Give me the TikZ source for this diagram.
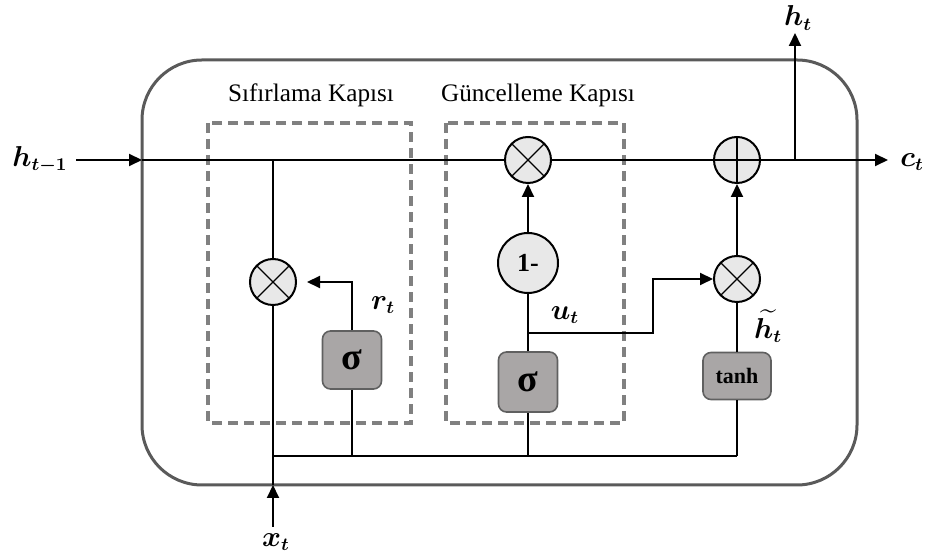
\documentclass[tikz,border=0pt]{standalone}
\usepackage{amsmath}
\usepackage{fontspec}
\setmainfont{Liberation Serif}
\usetikzlibrary{arrows.meta}
\usetikzlibrary{calc}

\definecolor{framegray}{HTML}{5A5A5A}
\definecolor{zonegray}{HTML}{808080}
\definecolor{boxgray}{HTML}{A9A6A6}
\definecolor{opfill}{HTML}{E8E8E8}

\tikzset{
    arr/.style={-{Triangle[length=6.5pt,width=6pt]}},
    wire/.style={line width=1pt},
    cellframe/.style={draw=framegray, line width=1.5pt, rounded corners=30pt},
    gatezone/.style={draw=zonegray, line width=1.7pt, dash pattern=on 5pt off 3pt},
    zonetitle/.style={font=\fontsize{12.6}{15}\selectfont},
    mlabel/.style={font=\fontsize{13.5}{16}\selectfont\boldmath},
    opcirc/.style={circle, draw, line width=1pt, fill=opfill, minimum size=23pt, inner sep=0pt},
    times/.style={opcirc, path picture={
        \draw[line width=0.6pt] (path picture bounding box.north west) -- (path picture bounding box.south east);
        \draw[line width=0.6pt] (path picture bounding box.north east) -- (path picture bounding box.south west);}},
    plus/.style={opcirc, path picture={
        \draw[line width=1pt] (path picture bounding box.north) -- (path picture bounding box.south);
        \draw[line width=1pt] (path picture bounding box.west) -- (path picture bounding box.east);}},
    gatebox/.style={draw=gray!75!black, fill=boxgray, rounded corners=4pt, line width=0.8pt, inner sep=0pt},
    sigbox/.style={gatebox, minimum width=29.5pt, font=\fontsize{19}{20}\selectfont\bfseries},
}

\begin{document}
\begin{tikzpicture}[x=0.5pt,y=-0.5pt]
    \useasboundingbox (0,0) rectangle (927,560);

    % cell and gate zones
    \draw[cellframe] (142,60) rectangle (857,485);
    \draw[gatezone] (208,123) rectangle (411,423);
    \draw[gatezone] (446,123) rectangle (624,423);
    \node[zonetitle] (rtitle) at (311,95) {Sıfırlama Kapısı};
    \node[zonetitle] (utitle) at (538,95) {Güncelleme Kapısı};

    % operators
    \node[times] (mulR) at (273,282) {};
    \node[times] (mulU) at (528,160) {};
    \node[times] (mulC) at (737,279) {};
    \node[plus] (addC) at (737,160) {};
    \node[opcirc, minimum size=30pt, font=\fontsize{13}{15}\selectfont\bfseries] (oneM) at (528,263) {1-};
    \node[sigbox, minimum height=29pt] (sigR) at (352,360) {σ};
    \node[sigbox, minimum height=30pt] (sigU) at (528,382) {σ};
    \node[gatebox, minimum width=34pt, minimum height=23.5pt, font=\fontsize{11}{13}\selectfont\bfseries] (tanhB) at (737,376) {tanh};

    % points on the wires
    \coordinate (hin) at (76,160);
    \coordinate (cellL) at (142,160);
    \coordinate (jr) at (273,160);
    \coordinate (jh) at (795,160);
    \coordinate (cout) at (888,160);
    \coordinate (hout) at (795,33);
    \coordinate (xin) at (273,527);
    \coordinate (cellB) at (273,485);
    \coordinate (ju) at (528,333);
    \coordinate (kink) at (653,279);
    \coordinate (b1) at (273,456);
    \coordinate (b2) at (352,456);
    \coordinate (b3) at (528,456);
    \coordinate (b4) at (737,456);

    % labels
    \node[mlabel] (hprev) at (40,160) {$h_{t-1}$};
    \node[mlabel] (ct) at (912,162) {$c_t$};
    \node[mlabel] (ht) at (798,18) {$h_t$};
    \node[mlabel] (xt) at (276,542) {$x_t$};
    \node[mlabel] (rt) at (383,305) {$r_t$};
    \node[mlabel] (ut) at (565,315) {$u_t$};
    \node[mlabel, inner sep=1pt] (htil) at (768,326) {$\widetilde{h_t}$};

    % main line
    \draw[wire, arr] (hin) -- (cellL);
    \draw[wire] (cellL) -- (mulU);
    \draw[wire] (mulU) -- (addC);
    \draw[wire, arr] (addC) -- (cout);
    \draw[wire, arr] (jh) -- (hout);

    % input and bus
    \draw[wire, arr] (xin) -- (cellB);
    \draw[wire] (cellB) -- (mulR);
    \draw[wire] (jr) -- (mulR);
    \draw[wire] (b1) -- (b4);
    \draw[wire] (sigR) -- (b2);
    \draw[wire] (sigU) -- (b3);
    \draw[wire] (tanhB) -- (b4);

    % gates
    \draw[wire, arr, shorten >=5pt] (sigR) |- (mulR);
    \draw[wire] (sigU) -- (oneM);
    \draw[wire, arr] (oneM) -- (mulU);
    \draw[wire, arr] (ju) -| (kink) -- (mulC);
    \draw[wire] (tanhB) -- (mulC);
    \draw[wire, arr] (mulC) -- (addC);
\end{tikzpicture}
\end{document}
